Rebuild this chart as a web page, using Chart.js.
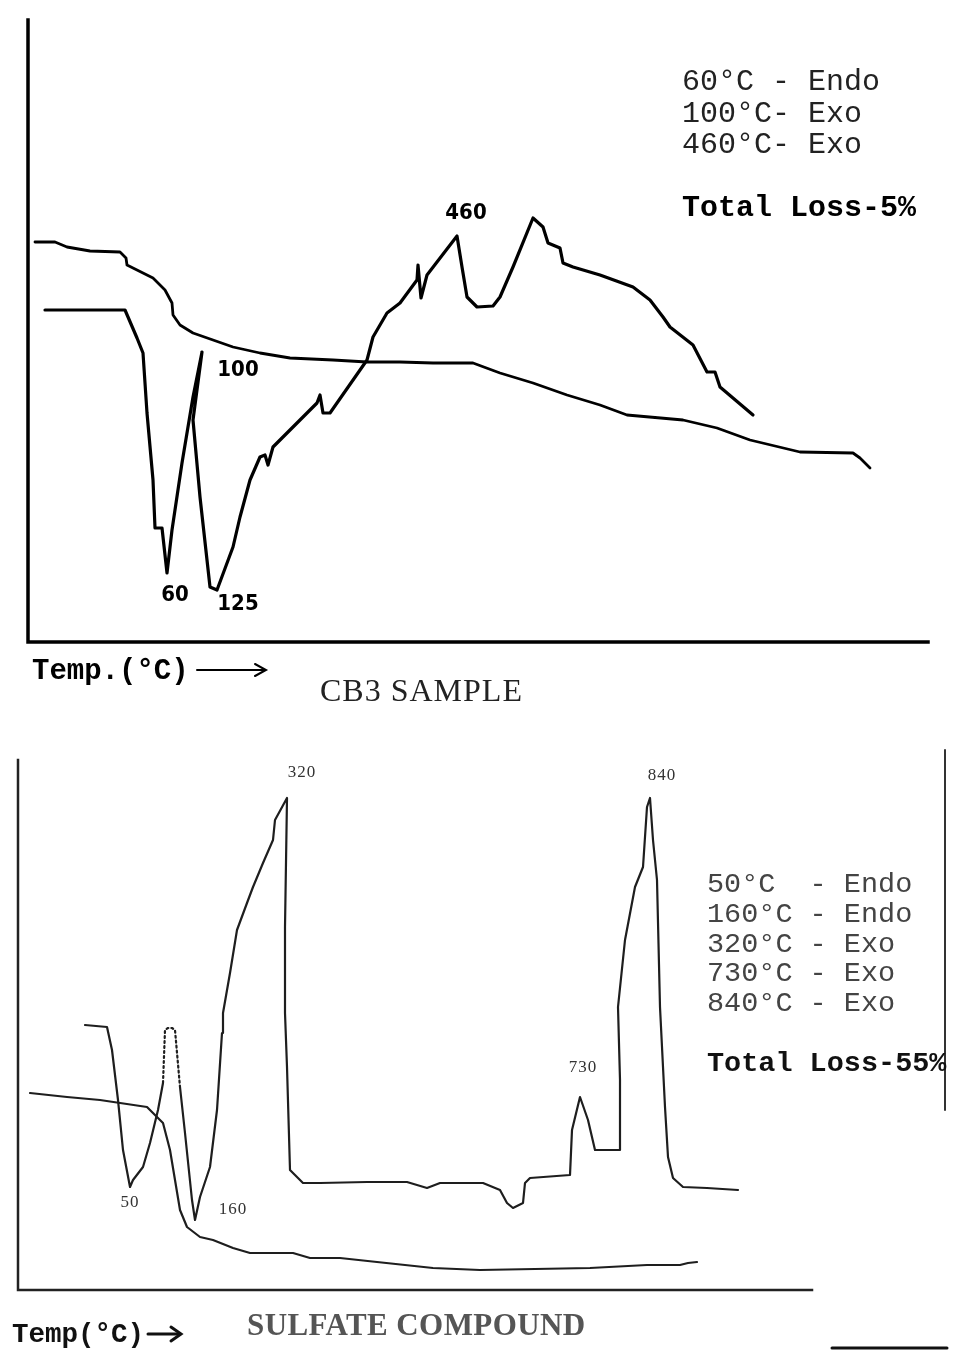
<!DOCTYPE html>
<html>
<head>
<meta charset="utf-8">
<script src="https://cdn.jsdelivr.net/npm/chart.js@4.4.1/dist/chart.umd.min.js"></script>
<style>
body{margin:0;background:#fff;width:956px;height:1362px;position:relative;overflow:hidden}
.box{position:absolute;left:0;width:956px}
#top{top:0;height:720px}
#bot{top:720px;height:642px}
.mono{position:absolute;font-family:"Liberation Mono","Courier New",monospace;white-space:pre;color:#222}
.serif{position:absolute;font-family:"Liberation Serif","Times New Roman",serif;white-space:pre}
</style>
</head>
<body>
<div class="box" id="top"><canvas id="cb3"></canvas></div>
<div class="box" id="bot"><canvas id="sulf"></canvas></div>

<div class="mono" style="left:682px;top:67px;font-size:30px;line-height:31.5px">60°C - Endo
100°C- Exo
460°C- Exo

<b style="color:#000">Total Loss-5%</b></div>
<div class="mono" style="left:32px;top:656px;font-size:29px;line-height:31px;font-weight:bold;color:#000">Temp.(°C)</div>
<div class="serif" style="left:320px;top:672px;font-size:32px;line-height:36px;letter-spacing:1px;color:#222">CB3 SAMPLE</div>

<div class="mono" style="left:707px;top:870px;font-size:28.5px;line-height:29.8px;color:#444">50°C  - Endo
160°C - Endo
320°C - Exo
730°C - Exo
840°C - Exo

<b style="color:#111">Total Loss-55%</b></div>
<div class="mono" style="left:12px;top:1320px;font-size:27.5px;line-height:30px;font-weight:bold;color:#111">Temp(°C)</div>
<div class="serif" style="left:247px;top:1307px;font-size:31px;line-height:35px;letter-spacing:0.4px;color:#555;font-weight:bold">SULFATE COMPOUND</div>

<script>
// CB3 sample: DTA and TG traces (x along temp axis, y up from baseline)
const cb3Dta = [[17,332],[97,332],[109,304],[115,289],[119,229],[125,162],[127,114],[134,114],[139,69],[144,112],
  [154,179],[165,245],[174,290],[165,222],[172,145],[182,55],[189,52],[205,95],[212,125],[222,162],
  [232,185],[237,187],[240,177],[245,195],[255,205],[289,239],[292,247],[295,229],[302,229],[339,282],
  [345,305],[359,329],[372,339],[389,362],[390,377],[393,344],[399,367],[429,406],[434,375],[439,345],
  [449,335],[465,336],[472,345],[485,375],[505,424],[515,415],[520,399],[532,394],[535,379],[545,375],
  [572,367],[605,355],[622,342],[635,325],[642,315],[665,297],[679,270],[687,270],[692,255],[725,227]]
const cb3Tg = [[7,400],[27,400],[39,395],[62,391],[92,390],[98,384],[99,377],[105,374],[125,364],[137,352],
  [144,339],[145,327],[152,317],[165,309],[185,302],[205,295],[232,289],[262,284],[305,282],[339,280],
  [372,280],[405,279],[445,279],[472,269],[505,259],[539,247],[572,237],[599,227],[655,222],[689,214],
  [722,202],[772,190],[825,189],[832,184],[842,174]]
const cb3PeakText = ['460', '100', '60', '125']
const cb3PeakX = [438, 210, 147, 210]
const cb3PeakY = [429, 272, 47, 38]

// sulfate compound
const sulfDtaA = [[67,265],[89,263],[94,240],[100,190],[105,140],[112,103],[115,110],[125,123],[132,147],[140,180],[145,207]]
const sulfDtaDots = [[145,207],[147,260],[150,262],[154,262],[157,260],[162,203]]
const sulfDtaB = [[162,203],[167,157],[174,90],[177,70],[182,93],[192,123],[199,180],[204,257],[205,277],[212,317],
  [219,360],[229,387],[235,403],[245,427],[255,450],[257,470],[269,492],[267,363],[267,277],[269,223],
  [272,120],[285,107],[302,107],[349,108],[389,108],[409,102],[422,107],[465,107],[482,100],[489,87],
  [495,82],[505,87],[507,107],[512,112],[552,115],[554,160],[562,193],[570,170],[577,140],[602,140],
  [602,210],[600,283],[607,350],[617,403],[625,423],[629,483],[632,492],[635,450],[639,410],[642,283],
  [647,183],[650,133],[655,112],[665,103],[689,102],[720,100]]
const sulfTg = [[12,197],[49,193],[82,190],[129,183],[135,177],[145,167],[152,140],[162,80],[169,63],[182,53],
  [195,50],[215,42],[232,37],[275,37],[292,32],[322,32],[359,28],[415,22],[462,20],[572,22],
  [629,25],[662,25],[670,27],[679,28]]
const sulfPeakText = ['320', '840', '730', '50', '160']
const sulfPeakX = [284, 644, 565, 112, 215]
const sulfPeakY = [517, 514, 222, 87, 80]

const pts = arr => arr.map(p => ({x: p[0], y: p[1]}))

function line(data, color, width, dash) {
    return {data: pts(data), showLine: true, borderColor: color, borderWidth: width,
        borderDash: dash || [], pointRadius: 0, fill: false}
}

function opts(pad, xmax, ymax) {
    return {
        responsive: true, maintainAspectRatio: false, animation: false,
        layout: {padding: pad},
        plugins: {legend: {display: false}, tooltip: {enabled: false}},
        scales: {
            x: {type: 'linear', display: false, min: 0, max: xmax},
            y: {type: 'linear', display: false, min: 0, max: ymax}
        },
        elements: {line: {tension: 0, borderJoinStyle: 'round', borderCapStyle: 'round'}}
    }
}

function stroke(ctx, color, w, pts) {
    ctx.beginPath()
    ctx.strokeStyle = color
    ctx.lineWidth = w
    ctx.moveTo(pts[0][0], pts[0][1])
    pts.slice(1).forEach(p => ctx.lineTo(p[0], p[1]))
    ctx.stroke()
}

// axes, peak labels and the odd scan marks
function decor(cfg) {
    return {
        id: 'decor',
        afterDatasetsDraw(chart) {
            const {ctx, chartArea: a, scales: {x, y}} = chart
            ctx.save()
            ctx.lineCap = 'square'
            stroke(ctx, cfg.axis, cfg.axisW, [[a.left, a.top], [a.left, a.bottom], [a.right, a.bottom]])
            ctx.fillStyle = cfg.labelColor
            ctx.font = cfg.labelFont
            ctx.textAlign = 'center'
            ctx.textBaseline = 'middle'
            if (cfg.spacing) ctx.letterSpacing = cfg.spacing
            cfg.text.forEach((t, i) => {
                ctx.fillText(t, x.getPixelForValue(cfg.px[i]), y.getPixelForValue(cfg.py[i]))
            })
            ctx.lineCap = 'round'
            cfg.extra(ctx)
            ctx.restore()
        }
    }
}

new Chart('cb3', {
    type: 'scatter',
    data: {datasets: [line(cb3Dta, '#000', 3.2), line(cb3Tg, '#000', 2.8)]},
    options: opts({left: 28, top: 20, right: 28, bottom: 78}, 900, 622),
    plugins: [decor({
        axis: '#000', axisW: 3.5, labelColor: '#000',
        labelFont: 'bold 22px "DejaVu Sans Condensed", "Liberation Sans Narrow", "DejaVu Sans", sans-serif',
        text: cb3PeakText, px: cb3PeakX, py: cb3PeakY,
        extra: ctx => {
            stroke(ctx, '#000', 2, [[197, 670], [265, 670]])
            stroke(ctx, '#000', 2, [[255, 664], [266, 670], [255, 676]])
        }
    })]
})

new Chart('sulf', {
    type: 'scatter',
    data: {datasets: [
        line(sulfDtaA, '#1e1e1e', 2.2),
        line(sulfDtaDots, '#1e1e1e', 2.2, [2, 3]),
        line(sulfDtaB, '#1e1e1e', 2.2),
        line(sulfTg, '#1e1e1e', 2.2)
    ]},
    options: opts({left: 18, top: 40, right: 144, bottom: 72}, 794, 530),
    plugins: [decor({
        axis: '#222', axisW: 2.5, labelColor: '#333',
        labelFont: '17px "Liberation Serif", serif', spacing: '1px',
        text: sulfPeakText, px: sulfPeakX, py: sulfPeakY,
        extra: ctx => {
            stroke(ctx, '#333', 2, [[945, 30], [945, 390]])
            stroke(ctx, '#111', 3, [[832, 628], [947, 628]])
            stroke(ctx, '#111', 3, [[148, 614], [180, 614]])
            stroke(ctx, '#111', 3, [[171, 607], [181, 614], [171, 621]])
        }
    })]
})
</script>
</body>
</html>
